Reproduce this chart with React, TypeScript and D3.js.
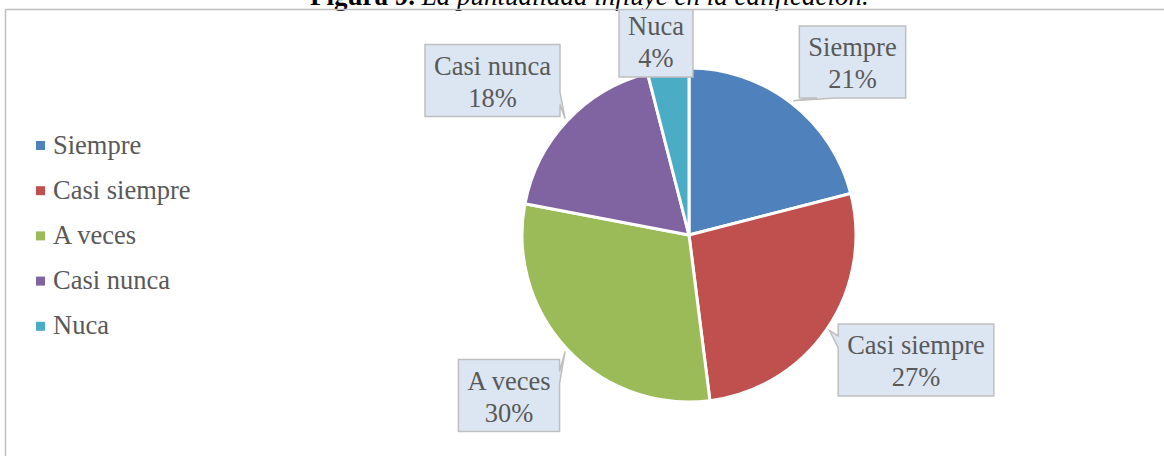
import React, { useEffect, useRef } from 'react';
import * as d3 from 'd3';

// ---- data ----
const categories = ['Siempre', 'Casi siempre', 'A veces', 'Casi nunca', 'Nuca'];
const percentages = [21, 27, 30, 18, 4];
const sliceColors = ['#4f81bd', '#c0504d', '#9bbb59', '#8064a2', '#4bacc6'];
const titleBold = 'Figura 9.';
const titleItalic = ' La puntualidad influye en la calificación.';

// ---- layout ----
const W = 1164;
const H = 456;
const CX = 689;
const CY = 235;
const R = 167;
const FONT = '"Liberation Serif", "Times New Roman", serif';
const FS = 26.5;
const TITLE_FS = 27;
const TEXT_COLOR = '#595959';
const labelCenters: [number, number][] = [
  [852.5, 62],
  [916, 360],
  [509, 395.5],
  [492.5, 80.5],
  [656, 41],
];
const labelSides = ['bottom', 'auto', 'right', 'right', 'auto'];
const legendX = 36;
const legendY0 = 145.5;
const legendStep = 45.2;

function calloutPath(x: number, y: number, w: number, h: number, tx: number, ty: number, side: string) {
  const x1 = x + w;
  const y1 = y + h;
  if (tx >= x && tx <= x1 && ty >= y && ty <= y1) {
    return `M${x},${y}H${x1}V${y1}H${x}Z`;
  }
  const dx = (tx - (x + w / 2)) / w;
  const dy = (ty - (y + h / 2)) / h;
  let s = side;
  if (s === 'auto') s = Math.abs(dx) > Math.abs(dy) ? (dx > 0 ? 'right' : 'left') : dy > 0 ? 'bottom' : 'top';
  const pts: [number, number][] = [];
  pts.push([x, y]);
  if (s === 'top') {
    const a = dx < 0 ? [x + w / 6, x + w / 3] : [x + (2 * w) / 3, x + (5 * w) / 6];
    pts.push([a[0], y], [tx, ty], [a[1], y]);
  }
  pts.push([x1, y]);
  if (s === 'right') {
    const a = dy < 0 ? [y + h / 6, y + h / 3] : [y + (2 * h) / 3, y + (5 * h) / 6];
    pts.push([x1, a[0]], [tx, ty], [x1, a[1]]);
  }
  pts.push([x1, y1]);
  if (s === 'bottom') {
    const a = dx < 0 ? [x + w / 3, x + w / 6] : [x + (5 * w) / 6, x + (2 * w) / 3];
    pts.push([a[0], y1], [tx, ty], [a[1], y1]);
  }
  pts.push([x, y1]);
  if (s === 'left') {
    const a = dy < 0 ? [y + h / 3, y + h / 6] : [y + (5 * h) / 6, y + (2 * h) / 3];
    pts.push([x, a[0]], [tx, ty], [x, a[1]]);
  }
  return 'M' + pts.map((p) => `${p[0]},${p[1]}`).join('L') + 'Z';
}

export default function App() {
  const ref = useRef<SVGSVGElement>(null);

  useEffect(() => {
    const svg = d3.select(ref.current as SVGSVGElement);
    svg.selectAll('*').remove();

    svg.append('rect').attr('width', W).attr('height', H).attr('fill', '#fff');

    svg
      .append('defs')
      .append('clipPath')
      .attr('id', 'plotClip')
      .append('rect')
      .attr('x', 5.5)
      .attr('y', 9.5)
      .attr('width', W)
      .attr('height', H);

    // title (partly cut off at the top, as in the reference)
    const title = svg
      .append('text')
      .attr('x', 310)
      .attr('y', 5)
      .attr('font-family', FONT)
      .attr('font-size', TITLE_FS)
      .attr('fill', '#000');
    title.append('tspan').attr('font-weight', 'bold').text(titleBold);
    title.append('tspan').attr('font-style', 'italic').text(titleItalic);

    // pie
    const pieData = d3.pie<number>().sort(null).value((d) => d)(percentages);
    const arc = d3.arc<d3.PieArcDatum<number>>().innerRadius(0).outerRadius(R);
    const g = svg.append('g').attr('transform', `translate(${CX},${CY})`);
    g.selectAll('path')
      .data(pieData)
      .join('path')
      .attr('d', arc as any)
      .attr('fill', (_d, i) => sliceColors[i])
      .attr('stroke', '#fff')
      .attr('stroke-width', 3)
      .attr('stroke-linejoin', 'round');

    // callout labels
    const lg = svg.append('g').attr('clip-path', 'url(#plotClip)');
    pieData.forEach((d, i) => {
      const mid = (d.startAngle + d.endAngle) / 2;
      const tx = CX + (R + 3) * Math.sin(mid);
      const ty = CY - (R + 3) * Math.cos(mid);
      const [cx, cy] = labelCenters[i];
      const grp = lg.append('g');
      const path = grp.append('path');
      const t1 = grp
        .append('text')
        .attr('x', cx)
        .attr('y', cy - 6)
        .attr('text-anchor', 'middle')
        .attr('font-family', FONT)
        .attr('font-size', FS)
        .attr('fill', TEXT_COLOR)
        .text(categories[i]);
      const t2 = grp
        .append('text')
        .attr('x', cx)
        .attr('y', cy + 26)
        .attr('text-anchor', 'middle')
        .attr('font-family', FONT)
        .attr('font-size', FS)
        .attr('fill', TEXT_COLOR)
        .text(`${percentages[i]}%`);
      const tw = Math.max(
        (t1.node() as SVGTextElement).getComputedTextLength(),
        (t2.node() as SVGTextElement).getComputedTextLength()
      );
      const w = tw + 18;
      const h = 72;
      path
        .attr('d', calloutPath(cx - w / 2, cy - h / 2, w, h, tx, ty, labelSides[i]))
        .attr('fill', '#dce6f2')
        .attr('stroke', '#bfbfbf')
        .attr('stroke-width', 1.5)
        .attr('stroke-linejoin', 'miter');
    });

    // legend
    const leg = svg.append('g');
    categories.forEach((c, i) => {
      const y = legendY0 + i * legendStep;
      leg
        .append('rect')
        .attr('x', legendX)
        .attr('y', y - 4.5)
        .attr('width', 9)
        .attr('height', 9)
        .attr('fill', sliceColors[i]);
      leg
        .append('text')
        .attr('x', legendX + 17)
        .attr('y', y + 8)
        .attr('font-family', FONT)
        .attr('font-size', FS)
        .attr('fill', TEXT_COLOR)
        .text(c);
    });

    // frame (left and top border)
    svg
      .append('path')
      .attr('d', `M5.5,${H}V9.5H${W}`)
      .attr('fill', 'none')
      .attr('stroke', '#bfbfbf')
      .attr('stroke-width', 1.5);
  }, []);

  return (
    <svg
      ref={ref}
      width={W}
      height={H}
      style={{ position: 'fixed', left: 0, top: 0, display: 'block' }}
    />
  );
}
